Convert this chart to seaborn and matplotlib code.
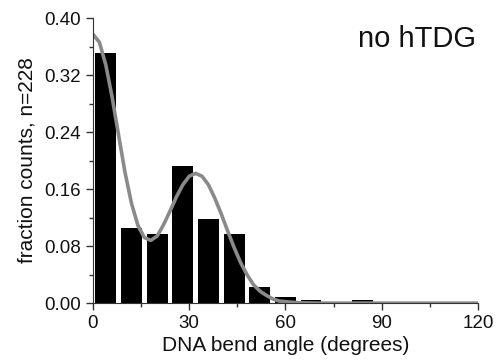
import numpy as np
import pandas as pd
import seaborn as sns
import matplotlib.pyplot as plt
from matplotlib.ticker import MultipleLocator

# histogram of bend angles, 8 degree bins, n=228
bin_left = [0, 8, 16, 24, 32, 40, 48, 56, 64, 72, 80]
counts = [80, 24, 22, 44, 27, 22, 5, 2, 1, 0, 1]
n_total = 228

# fitted curve
curve_x = [0, 2, 4, 6, 8, 10, 12, 14, 16, 18, 20, 22, 24, 26, 28, 30, 32, 34, 36,
           38, 40, 42, 44, 46, 48, 50, 52, 54, 56, 58, 60, 64, 70, 120]
curve_y = [0.377, 0.366, 0.334, 0.288, 0.235, 0.183, 0.140, 0.109, 0.092, 0.088,
           0.094, 0.110, 0.129, 0.149, 0.166, 0.178, 0.182, 0.178, 0.166, 0.147,
           0.125, 0.101, 0.078, 0.057, 0.040, 0.026, 0.017, 0.011, 0.006, 0.003,
           0.002, 0.0005, 0.0, 0.0]

hist = pd.DataFrame({'angle': np.array(bin_left) + 4,
                     'fraction': np.array(counts) / n_total})
fit = pd.DataFrame({'angle': curve_x, 'fraction': curve_y})

sns.set_style('ticks')
plt.rcParams['font.family'] = ['Liberation Sans', 'DejaVu Sans']

fig = plt.figure(figsize=(4.96, 3.6), dpi=100)
ax = fig.add_axes([0.1875, 0.158, 0.776, 0.792])

sns.histplot(data=hist, x='angle', weights='fraction', binwidth=8, binrange=(0, 88),
             shrink=0.81, color='black', alpha=1, edgecolor='white', linewidth=0,
             ax=ax)
sns.lineplot(data=fit, x='angle', y='fraction', color='#8a8a8a', linewidth=2.6, ax=ax)

ax.set_xlim(0, 120)
ax.set_ylim(0, 0.40)
ax.xaxis.set_major_locator(MultipleLocator(30))
ax.xaxis.set_minor_locator(MultipleLocator(15))
ax.yaxis.set_major_locator(MultipleLocator(0.08))
ax.yaxis.set_minor_locator(MultipleLocator(0.04))
ax.yaxis.set_major_formatter(plt.FormatStrFormatter('%.2f'))
ax.tick_params(which='major', length=5, width=1, labelsize=13.5, color='#333333',
               labelcolor='#111111')
ax.tick_params(which='minor', length=3, width=1, color='#333333')
for s in ['left', 'bottom']:
    ax.spines[s].set_color('#333333')
sns.despine(ax=ax)

ax.set_xlabel('DNA bend angle (degrees)', fontsize=15, labelpad=3, color='#111111')
ax.set_ylabel('fraction counts, n=228', fontsize=15, labelpad=6, color='#111111')
ax.text(0.995, 0.925, 'no hTDG', transform=ax.transAxes, ha='right', va='center',
        fontsize=21, color='#111111')

fig.savefig('out.png', dpi=100)
